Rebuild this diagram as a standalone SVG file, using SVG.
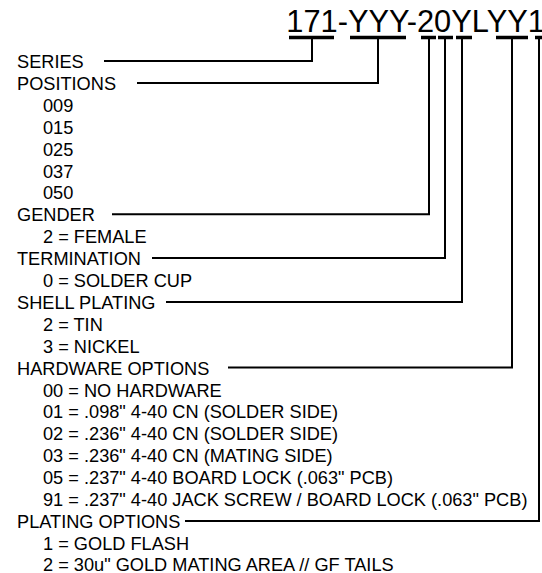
<svg xmlns="http://www.w3.org/2000/svg" width="542" height="573" viewBox="0 0 542 573">
<style>
text{font-family:"Liberation Sans",Arial,sans-serif;fill:#000}
.t{font-size:18.2px}
.code{font-size:30.8px}
.bar{stroke:#000;stroke-width:3.5;fill:none}
.c{stroke:#000;stroke-width:2;fill:none}
</style>
<rect width="542" height="573" fill="#fff"/>
<g id="part-number">
<text class="code" x="286.3" y="32">171-YYY-20YLYY1</text>
<path class="bar" d="M289,37.5H334M350,37.5H406M421,37.5H436M438,37.5H453M456,37.5H472M496,37.5H528M535,37.5H542"/>
</g>
<g id="connectors">
<path class="c" d="M312,37V61H104"/>
<path class="c" d="M378,37V83H137"/>
<path class="c" d="M429,37V214.3H112"/>
<path class="c" d="M445,37V258.1H152"/>
<path class="c" d="M462,37V301.9H166"/>
<path class="c" d="M512,37V367.6H228"/>
<path class="c" d="M539,37V520.9H185"/>
</g>
<g id="series"><text class="t" x="17" y="68">SERIES</text></g>
<g id="positions">
<text class="t" x="17" y="89.9">POSITIONS</text>
<text class="t" x="43" y="111.8">009</text>
<text class="t" x="43" y="133.7">015</text>
<text class="t" x="43" y="155.6">025</text>
<text class="t" x="43" y="177.5">037</text>
<text class="t" x="43" y="199.4">050</text>
</g>
<g id="gender">
<text class="t" x="17" y="221.3">GENDER</text>
<text class="t" x="43" y="243.2">2 = FEMALE</text>
</g>
<g id="termination">
<text class="t" x="17" y="265.1">TERMINATION</text>
<text class="t" x="43" y="287">0 = SOLDER CUP</text>
</g>
<g id="shell-plating">
<text class="t" x="17" y="308.9">SHELL PLATING</text>
<text class="t" x="43" y="330.8">2 = TIN</text>
<text class="t" x="43" y="352.7">3 = NICKEL</text>
</g>
<g id="hardware-options">
<text class="t" x="17" y="374.6">HARDWARE OPTIONS</text>
<text class="t" x="43" y="396.5">00 = NO HARDWARE</text>
<text class="t" x="43" y="418.4">01 = .098" 4-40 CN (SOLDER SIDE)</text>
<text class="t" x="43" y="440.3">02 = .236" 4-40 CN (SOLDER SIDE)</text>
<text class="t" x="43" y="462.2">03 = .236" 4-40 CN (MATING SIDE)</text>
<text class="t" x="43" y="484.1">05 = .237" 4-40 BOARD LOCK (.063" PCB)</text>
<text class="t" x="43" y="506">91 = .237" 4-40 JACK SCREW / BOARD LOCK (.063" PCB)</text>
</g>
<g id="plating-options">
<text class="t" x="17" y="527.9">PLATING OPTIONS</text>
<text class="t" x="43" y="549.8">1 = GOLD FLASH</text>
<text class="t" x="43" y="570.5">2 = 30u" GOLD MATING AREA // GF TAILS</text>
</g>
</svg>
